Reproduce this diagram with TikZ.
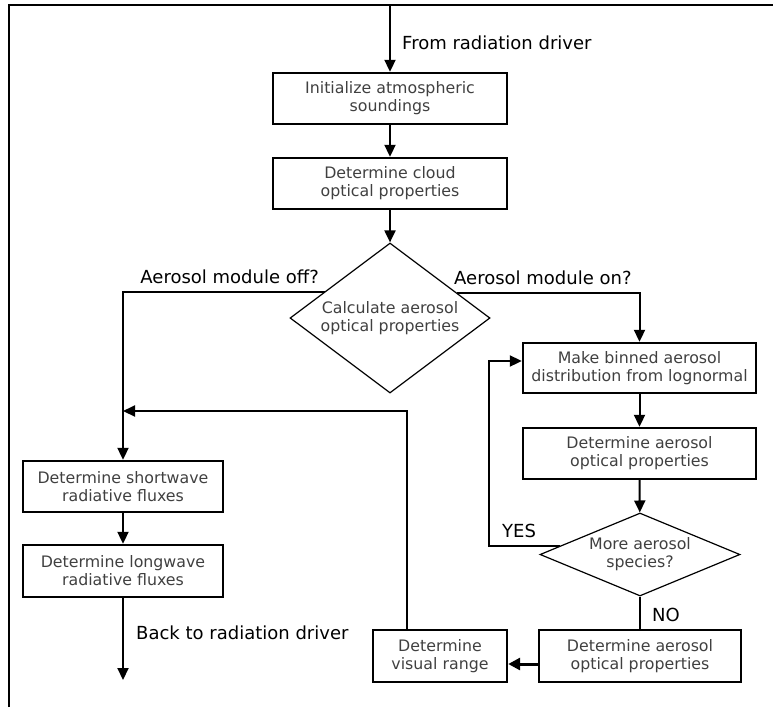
\documentclass[tikz,border=0pt]{standalone}
\usepackage{fontspec}
\setmainfont{DejaVu Sans}
\usetikzlibrary{arrows.meta,calc,shapes.geometric}
\definecolor{boxtext}{HTML}{404040}
\begin{document}
\begin{tikzpicture}[x=1pt,y=-1pt,
  boxfont/.style={text=boxtext, font=\fontsize{15.8}{18}\selectfont},
  box/.style={draw, line width=2.4pt, rectangle, align=center, inner sep=0pt, boxfont},
  dia/.style={draw, line width=1.2pt, diamond, inner sep=0pt},
  diatext/.style={align=center, inner sep=0pt, boxfont},
  lab/.style={inner sep=0pt, font=\fontsize{18}{21}\selectfont},
  conn/.style={line width=2pt},
  arr/.style={line width=2pt, -{Triangle[length=12pt,width=11pt]}},
  bigarr/.style={line width=3pt, -{Triangle[length=12pt,width=12pt]}}]
\useasboundingbox (0,0) rectangle (773,707);
% frame
\draw[line width=2pt] (9,707) -- (9,5) -- (773,5);
% nodes
\node[box, minimum width=234pt, minimum height=51pt] (b1) at (390,98.5) {Initialize atmospheric\\soundings};
\node[box, minimum width=234pt, minimum height=51pt] (b2) at (390,183.5) {Determine cloud\\optical properties};
\node[dia, minimum width=200pt, minimum height=150pt] (d1) at (390,318) {};
\node[diatext] (d1t) at (d1.center) {Calculate aerosol\\optical properties};
\node[box, minimum width=200pt, minimum height=51pt] (b3) at (123,486.5) {Determine shortwave\\radiative fluxes};
\node[box, minimum width=200pt, minimum height=52pt] (b4) at (123,571) {Determine longwave\\radiative fluxes};
\node[box, minimum width=233pt, minimum height=50pt] (b5) at (639.5,368) {Make binned aerosol\\distribution from lognormal};
\node[box, minimum width=233pt, minimum height=51pt] (b6) at (639.5,453.5) {Determine aerosol\\optical properties};
\node[dia, minimum width=200pt, minimum height=83pt] (d2) at (640,554.5) {};
\node[diatext] (d2t) at (d2.center) {More aerosol\\species?};
\node[box, minimum width=202pt, minimum height=52pt] (b7) at (640,656) {Determine aerosol\\optical properties};
\node[box, minimum width=134pt, minimum height=52pt] (vr) at (440,656) {Determine\\visual range};
% labels
\node[lab, anchor=west] (lfrom) at (402,43) {From radiation driver};
\node[lab, anchor=east] (loff) at (319,277) {Aerosol module off?};
\node[lab, anchor=west] (lon) at (454,278) {Aerosol module on?};
\node[lab, anchor=west] (lback) at (136,633) {Back to radiation driver};
\node[lab, anchor=west] (lyes) at (502,531) {YES};
\node[lab, anchor=west] (lno) at (652,615) {NO};
% free ends
\coordinate (top) at (390,5);
\coordinate (bot) at (123,680);
\coordinate (join) at (123,411);
% connectors
\draw[arr] (top) -- (b1.north);
\draw[arr] (b1) -- (b2);
\draw[arr] (b2) -- (d1);
\draw[arr] ($(d1.west)!0.35!(d1.north)$) -| (b3.north);
\draw[arr] ($(d1.east)!0.33!(d1.north)$) -| (b5.north);
\draw[arr] (b3) -- (b4);
\draw[arr] (b4.south) -- (bot);
\draw[arr] (b5) -- (b6);
\draw[arr] (b6) -- (d2);
\draw[arr] ($(d2.west)!0.2!(d2.north)$) -- ++(-71,0) |- ($(b5.west)+(0,-7)$);
\draw[conn] (d2.south) -- (b7.north);
\draw[bigarr] ($(b7.west)+(0,8)$) -- ($(vr.east)+(0,8)$);
\draw[arr] ($(vr.north)+(-33,0)$) |- (join);
\end{tikzpicture}
\end{document}
